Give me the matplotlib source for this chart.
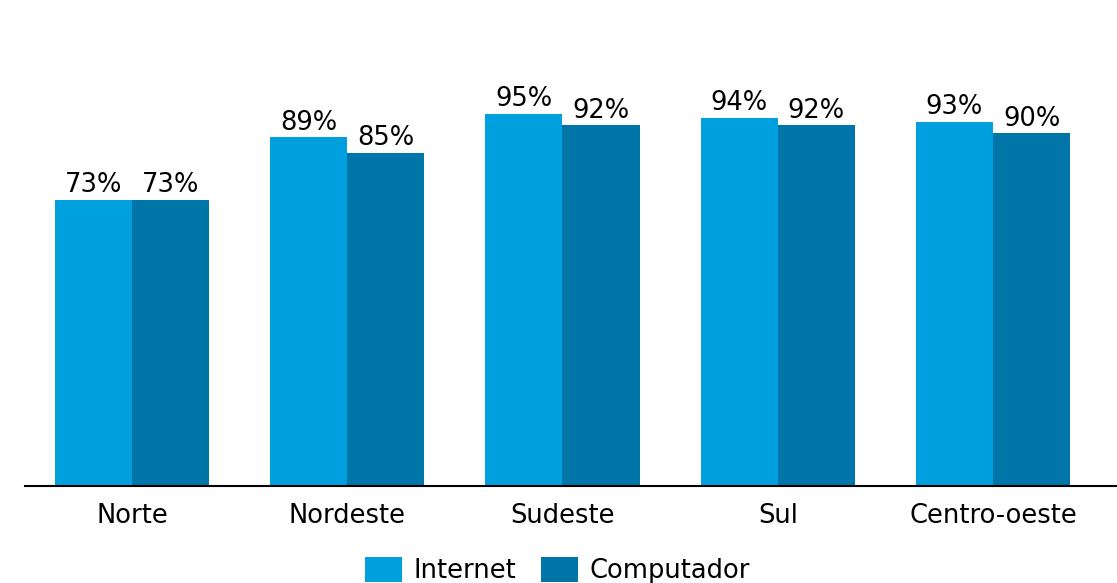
import numpy as np
import matplotlib
matplotlib.use("Agg")
import matplotlib.pyplot as plt

regioes = ["Norte", "Nordeste", "Sudeste", "Sul", "Centro-oeste"]
internet = [73, 89, 95, 94, 93]
computador = [73, 85, 92, 92, 90]

cor_internet = "#00A0DF"
cor_computador = "#0075A8"

plt.rcParams["font.family"] = ["DejaVu Sans"]
fs = 18.5

fig = plt.figure(figsize=(11.17, 5.83), dpi=100)
ax = fig.add_axes([25 / 1117, 97 / 583, 1092 / 1117, 486 / 583])

x = np.arange(len(regioes))
w = 0.358
b1 = ax.bar(x - w / 2, internet, w, color=cor_internet, label="Internet")
b2 = ax.bar(x + w / 2, computador, w, color=cor_computador, label="Computador")

for bars in (b1, b2):
    for b in bars:
        ax.text(b.get_x() + b.get_width() / 2, b.get_height() + 0.4,
                "%d%%" % b.get_height(), ha="center", va="bottom", fontsize=fs)

ax.set_ylim(0, 124)
ax.set_xlim(-0.497, 4.576)
ax.set_yticks([])
ax.set_xticks(x)
ax.set_xticklabels(regioes, fontsize=fs)
ax.tick_params(axis="x", length=0, pad=12)
for s in ["top", "right", "left"]:
    ax.spines[s].set_visible(False)
ax.spines["bottom"].set_linewidth(1.5)

fig.legend(handles=[b1, b2], loc="lower center", bbox_to_anchor=(0.499, -0.042),
           ncol=2, frameon=False, fontsize=fs, handlelength=1.44, handleheight=1.09,
           columnspacing=0.95, handletextpad=0.45)

fig.savefig("out.png", dpi=100)
